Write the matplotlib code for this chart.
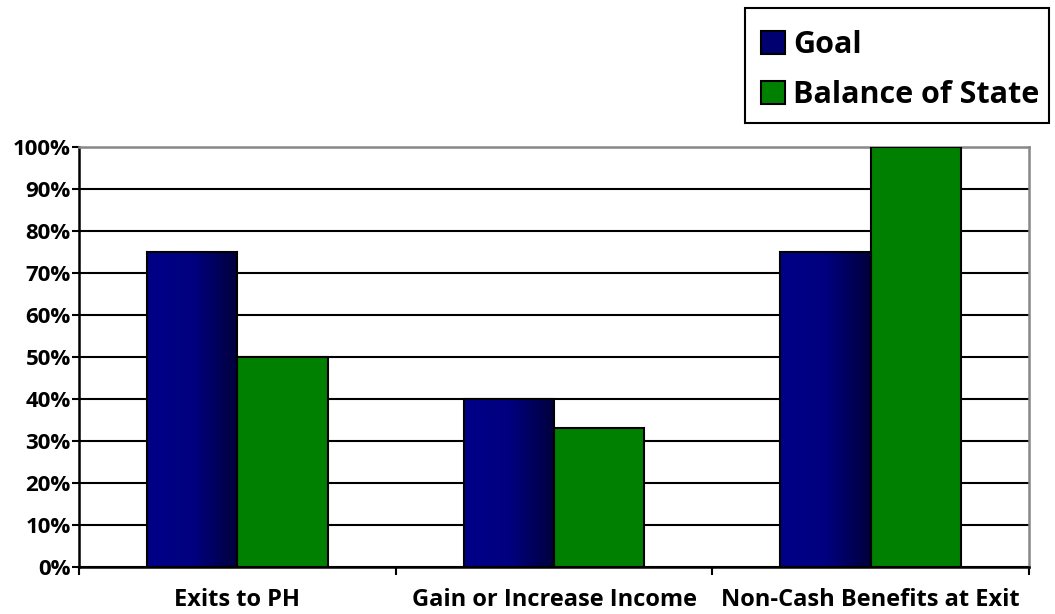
import matplotlib
matplotlib.use("Agg")
import matplotlib.pyplot as plt
import numpy as np
from matplotlib.patches import Patch, Rectangle
from matplotlib.ticker import FixedLocator, PercentFormatter
from matplotlib.colors import LinearSegmentedColormap

categories = ["Exits to PH", "Gain or Increase Income", "Non-Cash Benefits at Exit"]
goal = [75, 40, 75]
balance = [50, 33, 100]
series_names = ["Goal", "Balance of State"]
yticks = list(range(0, 101, 10))

plt.rcParams['font.family'] = ['Open Sans', 'DejaVu Sans']
plt.rcParams['font.weight'] = 'bold'

W, H = 1055, 614
fig = plt.figure(figsize=(W/100, H/100), dpi=100)
ax = fig.add_axes([79/W, 1-567/H, (1029-79)/W, (567-147)/H])

x = np.arange(len(categories))
w = 1/3.5
bars_g = ax.bar(x - w/2, goal, w, color="#000080", edgecolor="black", linewidth=1.5, zorder=3)
bars_b = ax.bar(x + w/2, balance, w, color="#008000", edgecolor="black", linewidth=1.5, zorder=3)

grad = np.linspace(0, 1, 256).reshape(1, -1)
cmap = LinearSegmentedColormap.from_list("navy", ["#000088", "#000080", "#00003C"])
for b in bars_g:
    x0, y0 = b.get_x(), b.get_y()
    im = ax.imshow(grad, cmap=cmap, aspect="auto", extent=[x0, x0 + b.get_width(), y0, y0 + b.get_height()],
                   zorder=3.5, interpolation="bicubic")
    im.set_clip_path(b)
    b.set_facecolor("none")
    b.set_zorder(4)

ax.set_xlim(-0.5, len(categories) - 0.5)
ax.set_ylim(0, 100)
ax.set_yticks(yticks)
ax.yaxis.set_major_formatter(PercentFormatter(decimals=0))
ax.grid(axis="y", color="black", linewidth=1.5, zorder=1)
ax.set_xticks(x)
ax.set_xticklabels(categories)
ax.xaxis.set_minor_locator(FixedLocator(np.arange(-0.5, len(categories), 1)))
ax.tick_params(axis="x", which="major", length=0, pad=15, labelsize=17)
ax.tick_params(axis="x", which="minor", length=6, width=1.5, direction="out")
ax.tick_params(axis="y", length=5, width=1.5, direction="out", labelsize=16, pad=1)
for lab in ax.get_xticklabels() + ax.get_yticklabels():
    lab.set_fontweight("bold")

for s in ["left", "bottom"]:
    ax.spines[s].set_color("black")
    ax.spines[s].set_linewidth(1.8)
for s in ["top", "right"]:
    ax.spines[s].set_color("#888888")
    ax.spines[s].set_linewidth(1.8)
ax.set_axisbelow(True)

# legend frame
fig.patches.append(Rectangle((745/W, 1-123/H), (1049-745)/W, (123-8)/H, transform=fig.transFigure,
                             fill=False, edgecolor="black", linewidth=1.5))
handles = [Patch(facecolor="#000070", edgecolor="black", linewidth=1.5),
           Patch(facecolor="#008000", edgecolor="black", linewidth=1.5)]
leg = fig.legend(handles, series_names, loc="center", bbox_to_anchor=(900/W, 1-70/H),
                 frameon=False, prop={"size": 22, "weight": "bold"},
                 handlelength=0.8, handleheight=0.8, handletextpad=0.25, labelspacing=0.66,
                 borderpad=0, borderaxespad=0)

fig.savefig("out.png", dpi=100)
